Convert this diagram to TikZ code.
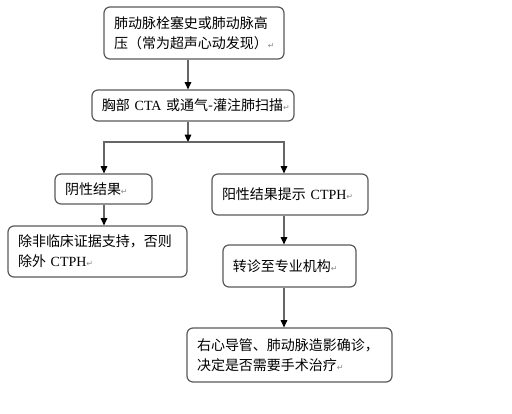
\documentclass[tikz,border=0pt]{standalone}
\usepackage{fontspec}
\setmainfont{Liberation Serif}
\newfontfamily\cjk{Noto Sans CJK SC}
\newfontfamily\symfont{DejaVu Sans}
\usepackage{xcolor}
\usepackage{tikz}
\usetikzlibrary{arrows.meta,positioning}
\newcommand{\en}[1]{{\rmfamily #1}}
\newcommand{\pmk}{{\symfont\color{black!45}\fontsize{6}{6}\selectfont ↵}}

\begin{document}
\begin{tikzpicture}[x=0.75pt,y=-0.75pt,
  box/.style={draw=black!65,line width=0.9pt,rounded corners=4.5pt,align=left,
    inner xsep=7.5pt,inner ysep=0pt,font=\cjk\fontsize{10.5}{15}\selectfont},
  arr/.style={draw=black!60,line width=0.8pt,-{Triangle[width=5pt,length=5.5pt,color=black]}}]
\useasboundingbox (0,0) rectangle (512,414);
% ---------- columns of the connectors ----------
\coordinate (xm) at (188,0);
\coordinate (xl) at (104,0);
\coordinate (xr) at (284,0);
\coordinate (split) at (188,142);
% ---------- top: history and imaging ----------
\node[box,text width=120pt,minimum height=39pt] (b1) at (194,33)
  {肺动脉栓塞史或肺动脉高\\压（常为超声心动发现）\pmk};
\node[box,text width=136.5pt,minimum height=23.25pt] (b2) at (193,105.5)
  {\mbox{胸部 \en{CTA} 或通气-灌注肺扫描\pmk}};
% ---------- left: negative ----------
\node[box,text width=57.75pt,minimum height=22.5pt] (b3) at (103.5,189)
  {阴性结果\pmk};
\node[box,text width=119.25pt,minimum height=38.25pt] (b5) at (97.5,251.5)
  {除非临床证据支持，否则\\除外 \en{CTPH}\pmk};
% ---------- right: positive ----------
\node[box,text width=102pt,minimum height=30.75pt] (b4) at (290,194.5)
  {阳性结果提示 \en{CTPH}\pmk};
\node[box,text width=84.75pt,minimum height=31.5pt] (b6) at (289.5,266)
  {转诊至专业机构\pmk};
\node[box,text width=138.75pt,minimum height=40.5pt] (b7) at (289.5,355)
  {右心导管、肺动脉造影确诊，\\决定是否需要手术治疗\pmk};
% ---------- connectors ----------
\draw[arr] (b1.south -| xm) -- (b2.north -| xm);
\draw[arr] (b2.south -| xm) -- (split);
\draw[arr] (split) -| (b3.north -| xl);
\draw[arr] (split) -| (b4.north -| xr);
\draw[arr] (b3.south -| xl) -- (b5.north -| xl);
\draw[arr] (b4.south -| xr) -- (b6.north -| xr);
\draw[arr] (b6.south -| xr) -- (b7.north -| xr);
\end{tikzpicture}
\end{document}
